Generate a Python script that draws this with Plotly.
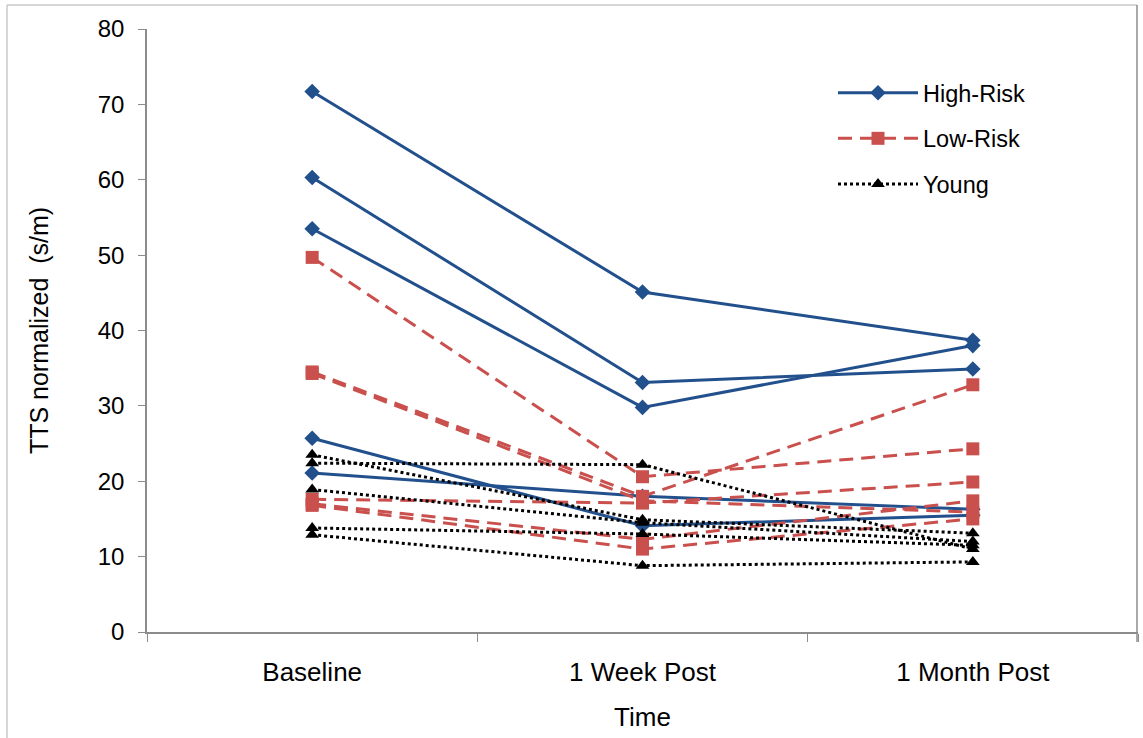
import plotly.graph_objects as go

categories = ["Baseline", "1 Week Post", "1 Month Post"]

high_risk = [
    [71.7, 45.1, 38.7],
    [60.3, 33.1, 34.9],
    [53.5, 29.8, 38.0],
    [25.7, 14.1, 15.5],
    [21.1, 18.0, 16.3],
]
low_risk = [
    [49.7, 20.6, 24.3],
    [34.5, 18.0, 32.8],
    [34.3, 17.4, 15.9],
    [17.6, 17.1, 19.9],
    [17.0, 12.3, 17.4],
    [16.8, 11.0, 15.0],
]
young = [
    [23.5, 14.9, 13.1],
    [22.4, 22.2, 11.0],
    [18.9, 14.5, 12.0],
    [13.8, 13.0, 11.5],
    [12.9, 8.8, 9.3],
]

y_ticks = [0, 10, 20, 30, 40, 50, 60, 70, 80]

FONT = "Liberation Sans, Arial, sans-serif"
W, H = 1143, 738
ML, MR, MT, MB = 147, 5, 29, 106
PW, PH = W - ML - MR, H - MT - MB


def px_x(x):
    return (x - ML) / PW


def px_y(y):
    return (H - MB - y) / PH


series = [
    ("High-Risk", high_risk, dict(color="#22508C", width=3, dash="solid"),
     dict(symbol="diamond", size=12, color="#22508C")),
    ("Low-Risk", low_risk, dict(color="#C9504D", width=3, dash="14px,8px"),
     dict(symbol="square", size=13, color="#C9504D")),
    ("Young", young, dict(color="#000000", width=3, dash="3px,3px"),
     dict(symbol="triangle-up", size=12, color="#000000")),
]

fig = go.Figure()
for name, rows, line, marker in series:
    for i, vals in enumerate(rows):
        fig.add_trace(go.Scatter(
            x=categories, y=vals, mode="lines+markers",
            name=name, legendgroup=name, showlegend=(i == 0),
            line=line, marker=marker,
        ))

fig.update_layout(
    width=W, height=H,
    margin=dict(l=ML, r=MR, t=MT, b=MB),
    paper_bgcolor="white", plot_bgcolor="white",
    font=dict(family=FONT, size=23, color="#000000"),
    showlegend=True,
    legend=dict(
        x=px_x(833), y=px_y(71), xanchor="left", yanchor="top",
        traceorder="grouped", tracegroupgap=12,
        itemwidth=80, font=dict(size=23.5, family=FONT),
        bgcolor="rgba(0,0,0,0)",
    ),
    xaxis=dict(
        type="category", range=[-0.5, 2.5],
        showline=True, linecolor="#8C8C8C", linewidth=1.5,
        ticks="outside", tickson="boundaries", ticklen=8, tickcolor="#8C8C8C",
        showgrid=False, zeroline=False,
        ticklabelstandoff=16,
        title=dict(text="Time", standoff=22, font=dict(size=26)),
        tickfont=dict(size=26),
    ),
    yaxis=dict(
        range=[0, 80], tickvals=y_ticks,
        showline=True, linecolor="#8C8C8C", linewidth=1.5,
        ticks="outside", ticklen=7, tickcolor="#8C8C8C",
        showgrid=False, zeroline=False,
        ticklabelstandoff=9,
        title=dict(text="TTS normalized  (s/m)", standoff=42, font=dict(size=25)),
        tickfont=dict(size=24),
    ),
)

# outer light frame
frame = dict(color="#C8C8C8", width=1.5)
fig.add_shape(type="line", xref="paper", yref="paper", x0=px_x(7), x1=px_x(7),
              y0=px_y(738), y1=px_y(5), line=frame)
fig.add_shape(type="line", xref="paper", yref="paper", x0=px_x(7), x1=px_x(1137),
              y0=px_y(5), y1=px_y(5), line=frame)
fig.add_shape(type="line", xref="paper", yref="paper", x0=px_x(1137), x1=px_x(1137),
              y0=px_y(642), y1=px_y(5), line=dict(color="#8C8C8C", width=1.5))

fig.write_html("out.html", config={"displayModeBar": False},
               post_script="document.body.style.margin='0';")
